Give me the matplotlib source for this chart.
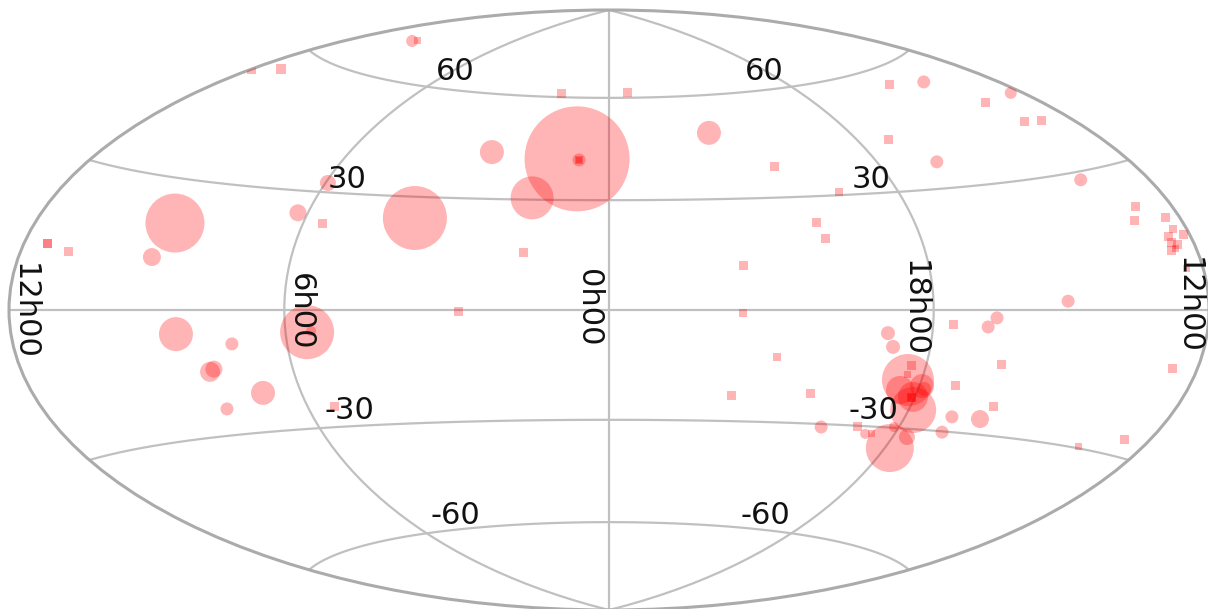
import matplotlib
matplotlib.use('Agg')  # no display here
import matplotlib.pyplot as plt
import numpy as np

# right ascension and declination in degrees, apparent diameter of each object
ra = [282.9, 280.9, 274.1, 274.5, 274.6, 275.4, 268.2, 269.2,
      271.0, 270.6, 268.6, 268.3, 265.3, 271.6, 279.5, 277.3,
      283.3, 294.6, 301.6, 263.9, 259.1, 253.6, 251.1, 247.3,
      243.8, 255.1, 245.6, 255.0, 228.9, 189.3, 189.7, 204.0,
      184.7, 199.3, 192.5, 205.4, 193.7, 197.4, 185.3, 185.2,
      188.3, 182.4, 188.2, 186.3, 189.5, 187.9, 186.2, 225.8,
      209.3, 201.9, 322.4, 305.3, 258.5, 249.5, 288.8, 299.7,
      298.2, 322.8, 323.7, 313.5, 324.7, 130.6, 93.1, 133.2,
      170.9, 162.4, 84.2, 180.0, 168.7, 89.2, 123.3, 106.5,
      83.7, 82.5, 115.6, 114.1, 101.8, 115.9, 81.5, 151.1,
      148.8, 40.6, 10.8, 10.1, 23.3, 56.9, 23.9, 41.0,
      23.1, 350.8, 170.9, 271.0, 271.0, 10.1, 10.1]
dec = [-5.9, -9.4, -17.7, -13.9, -16.4, -20.3, -19.8, -19.1,
       -22.2, -21.9, -25.2, -35.2, -32.1, -29.8, -32.0, -31.9,
       -30.3, -30.8, -21.9, -3.5, -18.7, -4.1, -1.9, -13.1,
       -23.2, -26.3, -26.3, -30.2, 2.0, -11.6, -26.7, -29.7,
       47.2, 41.9, 41.0, 28.3, 21.4, 18.5, 18.3, 16.0,
       14.6, 14.8, 13.4, 12.9, 11.8, 12.3, 8.1, 55.9,
       54.5, 47.2, 48.8, 38.4, 43.5, 36.6, 30.8, 22.9,
       18.6, 12.0, -0.8, -12.5, -23.1, 20.0, 24.4, 12.0,
       13.2, 12.0, 22.1, 53.4, 55.6, 32.4, -5.6, -8.2,
       -5.6, -5.3, -14.7, -14.1, -20.4, -23.7, -24.6, 69.3,
       69.7, 43.1, 41.7, 41.4, 30.5, 24.3, 15.6, -0.3,
       61.0, 61.5, 13.2, -22.2, -22.2, 41.4, 41.4]
diam = [14, 14, 52, 8, 6, 28, 14, 24,
        8, 30, 46, 48, 16, 10, 10, 6,
        8, 13, 8, 8, 8, 13, 13, 8,
        8, 13, 18, 13, 13, 8, 8, 6,
        12, 8, 8, 13, 8, 8, 8, 7,
        8, 8, 8, 8, 8, 6, 6, 8,
        13, 8, 24, 8, 8, 13, 7, 8,
        8, 8, 7, 7, 8, 59, 17, 18,
        8, 8, 8, 8, 9, 16, 34, 13,
        54, 10, 20, 17, 24, 13, 8, 12,
        6, 24, 105, 13, 43, 64, 8, 8,
        8, 8, 8, 8, 6, 7, 5]

lat_ticks = ['60', '30', '-30', '-60']
ra_ticks = ['12h00', '6h00', '0h00', '18h00', '12h00']

ra = np.array(ra)
dec = np.array(dec)
diam = np.array(diam)
# sky longitude runs to the left, 0h sits in the middle
lon = np.radians((180 - ra) % 360 - 180)
lat = np.radians(dec)
small = diam < 10
size = ((diam + small) * 0.72) ** 2

fig = plt.figure(figsize=(12.08, 6.09), dpi=100)
ax = fig.add_axes([9 / 1208, -1 / 609, 1200 / 1208, 600 / 609], projection='hammer')
ax.set_longitude_grid(90)
ax.set_latitude_grid(30)
ax.set_longitude_grid_ends(90)
ax.grid(True, color='#c0c0c0', linewidth=1.6)
ax.set_xticklabels([])
ax.set_yticklabels([])
ax.spines['geo'].set_edgecolor('#ababab')
ax.spines['geo'].set_linewidth(2.2)

ax.scatter(lon[small], lat[small], s=size[small], marker='s', color='red', alpha=0.29, linewidths=0, zorder=3)
ax.scatter(lon[~small], lat[~small], s=size[~small], marker='o', color='red', alpha=0.29, linewidths=0, zorder=3)

# labels are placed by hand like in the original map
lat_x = [[0.372, 0.629], [0.282, 0.718], [0.284, 0.720], [0.372, 0.630]]
lat_y = [0.897, 0.718, 0.333, 0.158]
for tick, xs, y in zip(lat_ticks, lat_x, lat_y):
    for x in xs:
        ax.text(x, y, tick, transform=ax.transAxes, ha='center', va='center', fontsize=22, color='#111111', zorder=5)

ra_x = [0.013, 0.243, 0.483, 0.754, 0.983]
ra_y = [0.498, 0.497, 0.503, 0.503, 0.507]
for label, x, y in zip(ra_ticks, ra_x, ra_y):
    ax.text(x, y, label, transform=ax.transAxes, rotation=-90, ha='center', va='center', fontsize=22, color='#111111', zorder=5)

fig.savefig('out.png', dpi=100)
plt.close(fig)
